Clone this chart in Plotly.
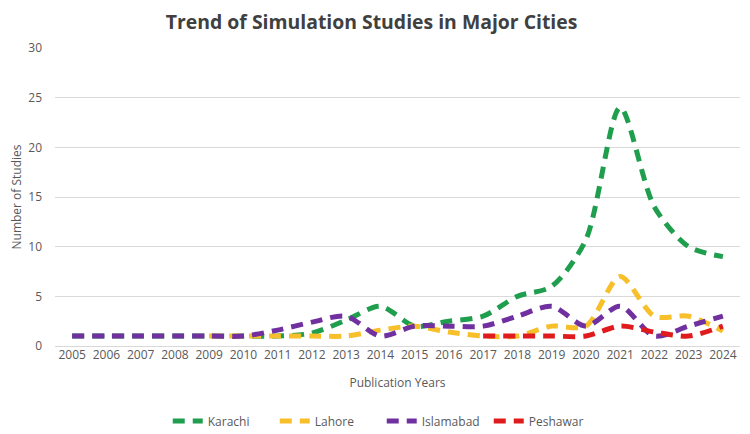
import plotly.graph_objects as go

years = [str(y) for y in range(2005, 2025)]

karachi = [1, 1, 1, 1, 1, 1, 1, 1.3, 2.6, 4, 2, 2.5, 3, 5, 6, 10.7, 24, 14, 10, 9]
lahore = [None, None, None, None, 1, 1, 1, 1, 1, 1.6, 2, 1.4, 1, 1, 2, 2, 7, 3, 3, 1.5]
islamabad = [1, 1, 1, 1, 1, 1, 1.6, 2.4, 3, 1, 2, 2, 2, 3, 4, 2, 4, 1, 2, 3]
peshawar = [None] * 12 + [1, 1, 1, 1, 2, 1.4, 1, 2]

series = [
    ("Karachi", karachi, "#1f9e4e"),
    ("Lahore", lahore, "#f7bf2a"),
    ("Islamabad", islamabad, "#7030a0"),
    ("Peshawar", peshawar, "#e01b1e"),
]

fig = go.Figure()
for name, vals, color in series:
    fig.add_trace(go.Scatter(
        x=years, y=vals, name=name, mode="lines",
        line=dict(color=color, width=5, dash="12px,8px", shape="spline", smoothing=0.8),
        connectgaps=False,
    ))

# page body adds an 8px margin, so the figure is a bit smaller than the window
fig.update_layout(
    width=742, height=426,
    paper_bgcolor="white", plot_bgcolor="white",
    font=dict(family="Open Sans", color="#595959", size=12),
    title=dict(text="<b>Trend of Simulation Studies in Major Cities</b>",
               x=0.49, xanchor="center", y=0.9665, yanchor="middle",
               font=dict(size=19.4, color="#404040")),
    margin=dict(l=47, r=10, t=40, b=88, autoexpand=False),
    xaxis=dict(
        title=dict(text="Publication Years", font=dict(size=12, color="#595959"), standoff=16),
        range=[-0.5, 19.5], showgrid=False, showline=False, ticks="",
        tickfont=dict(size=12), automargin=False,
    ),
    yaxis=dict(
        title=dict(text="Number of Studies", font=dict(size=12, color="#595959"), standoff=6),
        range=[0, 30], dtick=5, showgrid=True, gridcolor="#d9d9d9", gridwidth=1,
        zeroline=True, zerolinecolor="#d9d9d9", zerolinewidth=1,
        tickfont=dict(size=12), ticks="", ticklabelstandoff=12, automargin=False,
    ),
    legend=dict(orientation="h", x=0.477, xanchor="center", y=-0.252, yanchor="middle",
                font=dict(size=12, color="#595959"), itemwidth=30,
                entrywidth=62, entrywidthmode="pixels"),
    showlegend=True,
)

fig.write_html("out.html")
